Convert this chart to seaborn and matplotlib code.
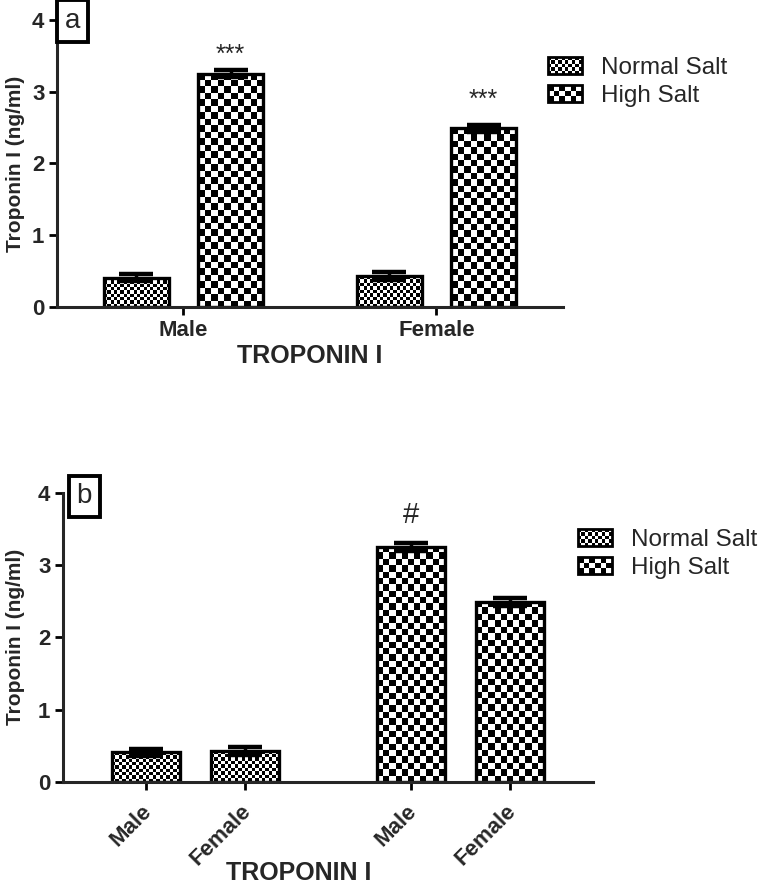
import numpy as np
import pandas as pd
import seaborn as sns
import matplotlib
matplotlib.use("Agg")
from matplotlib import pyplot as plt
from matplotlib.colors import ListedColormap
from matplotlib.patches import Patch, Rectangle
from matplotlib.legend_handler import HandlerBase
from matplotlib.transforms import ScaledTranslation

# data
sexes = ["Male", "Female"]
salts = ["Normal Salt", "High Salt"]
normal_mean = [0.41, 0.43]
normal_sem = [0.05, 0.06]
high_mean = [3.25, 2.49]
high_sem = [0.05, 0.05]
marks_a = ["***", "***"]     # over the high salt bars, panel a
mark_b = "#"                 # over the high salt male bar, panel b

df = pd.DataFrame({
    "sex": sexes * 2,
    "salt": [salts[0]] * 2 + [salts[1]] * 2,
    "troponin": normal_mean + high_mean,
    "err": normal_sem + high_sem,
})

# gap between error cap and significance mark (data units)
star_gap = [0.05, 0.175]
hash_gap = 0.2

# checker size (pixels) for each salt group
cell_px = {"Normal Salt": 3.3, "High Salt": 6.4}
legend_cells = {"Normal Salt": (10, 5), "High Salt": (6, 3)}
checker = ListedColormap(["white", "black"])

sns.set_theme(style="ticks")
plt.rcParams["font.family"] = ["Liberation Sans", "DejaVu Sans"]


def fill_checker(ax, bar, cell):
    # paint a checkerboard inside a bar drawn by seaborn
    bb = bar.get_window_extent()
    nx = max(1, int(round(bb.width / cell)))
    ny = max(1, int(round(bb.height / cell)))
    grid = np.indices((ny, nx)).sum(axis=0) % 2
    x0, y0 = bar.get_x(), bar.get_y()
    ax.imshow(grid, cmap=checker, vmin=0, vmax=1, origin="lower",
              extent=(x0, x0 + bar.get_width(), y0, y0 + bar.get_height()),
              interpolation="nearest", aspect="auto", zorder=bar.get_zorder() - 0.1)
    bar.set_facecolor("none")


class CheckerHandler(HandlerBase):
    def __init__(self, nx, ny):
        super().__init__()
        self.nx, self.ny = nx, ny

    def create_artists(self, legend, orig_handle, xdescent, ydescent, width, height, fontsize, trans):
        arts = []
        cw, ch = width / self.nx, height / self.ny
        for i in range(self.nx):
            for j in range(self.ny):
                if (i + j) % 2 == 0:
                    arts.append(Rectangle((-xdescent + i * cw, -ydescent + j * ch), cw, ch,
                                          facecolor="black", edgecolor="none", transform=trans))
        arts.append(Rectangle((-xdescent, -ydescent), width, height, facecolor="none",
                              edgecolor="black", linewidth=2, transform=trans))
        return arts


def style_axis(ax):
    ax.set_ylim(0, 4)
    ax.set_xlim(-0.5, 1.5)
    ax.set_yticks([0, 1, 2, 3, 4])
    sns.despine(ax=ax)
    for s in ["left", "bottom"]:
        ax.spines[s].set_linewidth(2.2)
    ax.tick_params(axis="both", width=2, length=5.5, labelsize=16, color="black")
    for lab in ax.get_yticklabels():
        lab.set_fontweight("bold")
    ax.set_ylabel("Troponin I (ng/ml)", fontsize=15, fontweight="bold")
    ax.set_xlabel("TROPONIN I", fontsize=18, fontweight="bold")


def add_legend(fig, x, y):
    handles = [Patch(facecolor="white", edgecolor="black", label=s) for s in salts]
    hmap = {h: CheckerHandler(*legend_cells[s]) for h, s in zip(handles, salts)}
    fig.legend(handles=handles, handler_map=hmap, loc="upper left",
               bbox_to_anchor=(x, y), frameon=False, fontsize=17.5,
               handlelength=1.4, handleheight=0.7, handletextpad=0.8,
               labelspacing=0.25, borderpad=0, borderaxespad=0)


fig = plt.figure(figsize=(7.67, 8.83), dpi=100)

##########################################################################
# a) grouped by sex
##########################################################################
ax_a = fig.add_axes([0.0743, 0.6523, 0.6597, 0.3251])
sns.barplot(data=df, x="sex", y="troponin", hue="salt", order=sexes, hue_order=salts,
            palette=["white", "white"], saturation=1, width=0.747, gap=0.31,
            errorbar=None, edgecolor="black", linewidth=2.4, legend=False, ax=ax_a)
style_axis(ax_a)

for salt, cont in zip(salts, ax_a.containers):
    for bar in cont:
        cx = bar.get_x() + bar.get_width() / 2
        i = int(round(cx))
        row = df[(df.salt == salt) & (df.sex == sexes[i])].iloc[0]
        fill_checker(ax_a, bar, cell_px[salt])
        ax_a.errorbar(cx, row["troponin"], yerr=row["err"], fmt="none", ecolor="black",
                      elinewidth=2.5, capsize=12, capthick=3.2, zorder=5)
        if salt == "High Salt":
            ax_a.text(cx, row["troponin"] + row["err"] + star_gap[i], marks_a[i],
                      ha="center", va="bottom", fontsize=18)

ax_a.set_xlim(-0.5, 1.5)
ax_a.set_ylim(0, 4)
for lab in ax_a.get_xticklabels():
    lab.set_fontweight("bold")
ax_a.xaxis.set_label_coords(0.5, -0.13)
ax_a.yaxis.set_label_coords(-0.063, 0.5)
ax_a.text(0.03, 0.9965, "a", transform=ax_a.transAxes, ha="center", va="center",
          fontsize=20, zorder=10, clip_on=False,
          bbox=dict(boxstyle="square,pad=0.28", facecolor="white", edgecolor="black", linewidth=2.8))
add_legend(fig, 548 / 767, 1 - 57 / 883)

##########################################################################
# b) grouped by salt
##########################################################################
ax_b = fig.add_axes([0.0821, 0.1144, 0.6910, 0.3276])
sns.barplot(data=df, x="salt", y="troponin", hue="sex", order=salts, hue_order=sexes,
            palette=["white", "white"], saturation=1, width=0.747, gap=0.317,
            errorbar=None, edgecolor="black", linewidth=2.4, legend=False, ax=ax_b)
style_axis(ax_b)

ticks, ticklabels = [], []
for sex, cont in zip(sexes, ax_b.containers):
    for bar in cont:
        cx = bar.get_x() + bar.get_width() / 2
        salt = salts[int(round(cx))]
        row = df[(df.salt == salt) & (df.sex == sex)].iloc[0]
        fill_checker(ax_b, bar, cell_px[salt])
        ax_b.errorbar(cx, row["troponin"], yerr=row["err"], fmt="none", ecolor="black",
                      elinewidth=2.5, capsize=12, capthick=3.2, zorder=5)
        ticks.append(cx)
        ticklabels.append(sex)
        if salt == "High Salt" and sex == "Male":
            ax_b.text(cx, row["troponin"] + row["err"] + hash_gap, mark_b,
                      ha="center", va="bottom", fontsize=21)

ax_b.set_xticks(ticks, ticklabels)
ax_b.set_xlim(-0.5, 1.5)
ax_b.set_ylim(0, 4)
ax_b.tick_params(axis="x", pad=8)
shift = ScaledTranslation(-5 / 100, 0, fig.dpi_scale_trans)
for lab in ax_b.get_xticklabels():
    lab.set_fontweight("bold")
    lab.set_rotation(45)
    lab.set_ha("right")
    lab.set_rotation_mode("anchor")
    lab.set_transform(lab.get_transform() + shift)
ax_b.xaxis.set_label_coords(0.445, -0.272)
ax_b.yaxis.set_label_coords(-0.072, 0.5)
ax_b.text(0.04, 0.987, "b", transform=ax_b.transAxes, ha="center", va="center",
          fontsize=20, zorder=10, clip_on=False,
          bbox=dict(boxstyle="square,pad=0.28", facecolor="white", edgecolor="black", linewidth=2.8))
add_legend(fig, 578 / 767, 1 - 529 / 883)

fig.savefig("out.png", dpi=100)
